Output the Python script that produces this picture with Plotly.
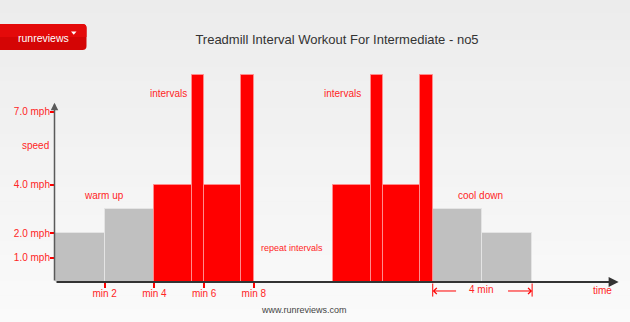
import plotly.graph_objects as go

# ---------------- data ----------------
seg_start = [0, 2, 4, 5.5, 6, 7.5, 11.2, 12.7, 13.2, 14.7, 15.2, 17.2]   # minutes
seg_duration = [2, 2, 1.5, 0.5, 1.5, 0.5, 1.5, 0.5, 1.5, 0.5, 2, 2]     # minutes
seg_speed = [2.0, 3.0, 4.0, 8.5, 4.0, 8.5, 4.0, 8.5, 4.0, 8.5, 3.0, 2.0]  # mph
seg_phase = ["easy", "easy", "hard", "hard", "hard", "hard",
             "hard", "hard", "hard", "hard", "easy", "easy"]

speed_ticks = [1, 2, 4, 7]
speed_tick_labels = ["1.0 mph", "2.0 mph", "4.0 mph", "7.0 mph"]
time_ticks = [2, 4, 6, 8]
time_tick_labels = ["min 2", "min 4", "min 6", "min 8"]

title_text = "Treadmill Interval Workout For Intermediate - no5"

# ---------------- layout geometry ----------------
W_FIG, H_FIG = 630, 322
L, R, T, B = 55, 14, 40, 40
PW, PH = W_FIG - L - R, H_FIG - T - B
PX_PER_MIN = 24.85
PX_PER_MPH = 24.3
x_max = PW / PX_PER_MIN
y_max = PH / PX_PER_MPH

RED = "#ff0000"
TXT_RED = "#ff2525"
FONT = "Liberation Sans, Arial, sans-serif"


def paper_x(px):
    return (px - L) / PW


def paper_y(py):
    return ((H_FIG - B) - py) / PH


def mx(minutes):          # data minutes -> paper x
    return minutes / x_max


def my(mph):              # data mph -> paper y
    return mph / y_max


fig = go.Figure()

for phase, color, line_color in [("easy", "#c0c0c0", "#e4e4e4"),
                                 ("hard", RED, "#ff8c8c")]:
    xs, ws, ys = [], [], []
    for s, d, v, p in zip(seg_start, seg_duration, seg_speed, seg_phase):
        if p == phase:
            xs.append(s + d / 2)
            ws.append(d)
            ys.append(v)
    fig.add_trace(go.Bar(
        x=xs, y=ys, width=ws, base=0,
        marker=dict(color=color, line=dict(color=line_color, width=1)),
        hoverinfo="skip", showlegend=False,
    ))

# ---------------- background gradient ----------------
shapes = []
n_bands = 24
for i in range(n_bands):
    y0 = H_FIG * i / n_bands
    y1 = H_FIG * (i + 1) / n_bands + 0.6
    c = int(round(236 + (250 - 236) * i / (n_bands - 1)))
    shapes.append(dict(type="rect", xref="paper", yref="paper",
                       x0=paper_x(0), x1=paper_x(W_FIG),
                       y0=paper_y(y1), y1=paper_y(y0),
                       fillcolor=f"rgb({c},{c},{c})", line=dict(width=0),
                       layer="below"))

# logo box (rounded rectangle)
lx0, lx1, ly0, ly1, rad = -4, 86.5, 24, 50, 4


def P(px, py):
    return f"{paper_x(px):.5f},{paper_y(py):.5f}"


path = (f"M {P(lx0, ly0)} L {P(lx1 - rad, ly0)} Q {P(lx1, ly0)} {P(lx1, ly0 + rad)} "
        f"L {P(lx1, ly1 - rad)} Q {P(lx1, ly1)} {P(lx1 - rad, ly1)} L {P(lx0, ly1)} Z")
shapes.append(dict(type="path", xref="paper", yref="paper", path=path,
                   fillcolor="#d40505", line=dict(width=0), layer="above"))
path_hi = (f"M {P(lx0, ly0)} L {P(lx1 - rad, ly0)} Q {P(lx1, ly0)} {P(lx1, ly0 + rad)} "
           f"L {P(lx1, 37)} L {P(lx0, 37)} Z")
shapes.append(dict(type="path", xref="paper", yref="paper", path=path_hi,
                   fillcolor="#e40a0a", line=dict(width=0), layer="above"))
tri = f"M {P(71, 31.5)} L {P(76.5, 31.5)} L {P(73.75, 34.8)} Z"
shapes.append(dict(type="path", xref="paper", yref="paper", path=tri,
                   fillcolor="white", line=dict(width=0), layer="above"))

# ---------------- annotations ----------------
ann = []


def text(t, minutes, mph, size=10, color=TXT_RED, xanchor="center"):
    ann.append(dict(text=t, x=mx(minutes), y=my(mph), xref="paper", yref="paper",
                    showarrow=False, xanchor=xanchor, yanchor="middle",
                    font=dict(family=FONT, size=size, color=color)))


def arrow(tip_min, tip_mph, tail_min, tail_mph, color, width, head, size=1):
    ann.append(dict(text="", x=mx(tip_min), y=my(tip_mph), xref="paper", yref="paper",
                    ax=(tail_min - tip_min) * PX_PER_MIN,
                    ay=(tip_mph - tail_mph) * PX_PER_MPH,
                    axref="pixel", ayref="pixel", showarrow=True, arrowhead=head,
                    arrowsize=size, arrowwidth=width, arrowcolor=color,
                    standoff=0, startstandoff=0))


# axes drawn as arrows
arrow(-0.02, 7.38, -0.02, 0, "#5a5a5a", 1.5, 2)
arrow(22.68, 0, 0, 0, "#333333", 2, 2)

# labels
text("speed", -0.16, 5.6, xanchor="right")
text("intervals", 5.4, 7.75, xanchor="right")
text("intervals", 12.38, 7.75, xanchor="right")
text("warm up", 1.98, 3.55)
text("cool down", 17.12, 3.58)
text("repeat intervals", 9.55, 1.41, size=9)
text("time", 22.05, -0.33)

# 4 min dimension
arrow(15.2, -0.6, 15.2, 0, RED, 1, 0)
arrow(19.2, -0.6, 19.2, 0, RED, 1, 0)
arrow(15.2, -0.37, 16.2, -0.37, RED, 1, 4, 1.2)
arrow(19.2, -0.37, 18.17, -0.37, RED, 1, 4, 1.2)
text("4 min", 17.15, -0.29)

# logo text, footer
ann.append(dict(text="runreviews", xref="paper", yref="paper",
                x=paper_x(43), y=paper_y(38), showarrow=False,
                xanchor="center", yanchor="middle",
                font=dict(family=FONT, size=10.5, color="white")))
ann.append(dict(text="www.runreviews.com", xref="paper", yref="paper",
                x=paper_x(304), y=paper_y(310), showarrow=False,
                xanchor="center", yanchor="middle",
                font=dict(family=FONT, size=9, color="#444444")))

fig.update_layout(
    width=W_FIG, height=H_FIG,
    margin=dict(l=L, r=R, t=T, b=B, pad=0),
    paper_bgcolor="#f2f2f2", plot_bgcolor="rgba(0,0,0,0)",
    barmode="overlay", bargap=0,
    title=dict(text=title_text, xref="container", yref="container",
               x=337 / W_FIG, y=1 - 39.5 / H_FIG, xanchor="center", yanchor="middle",
               font=dict(family=FONT, size=13, color="#333333")),
    xaxis=dict(range=[0, x_max], showgrid=False, zeroline=False, showline=False,
               tickmode="array", tickvals=time_ticks, ticktext=time_tick_labels,
               ticks="outside", ticklen=5, tickwidth=1.5, tickcolor=RED,
               ticklabelstandoff=-3,
               tickfont=dict(family=FONT, size=10, color=TXT_RED), fixedrange=True),
    yaxis=dict(range=[0, y_max], showgrid=False, zeroline=False, showline=False,
               tickmode="array", tickvals=speed_ticks, ticktext=speed_tick_labels,
               ticks="outside", ticklen=4, tickwidth=1.5, tickcolor=RED,
               ticklabelstandoff=-2,
               tickfont=dict(family=FONT, size=10, color=TXT_RED), fixedrange=True),
    shapes=shapes, annotations=ann, showlegend=False,
)

fig.write_html("out.html", config={"displayModeBar": False})
